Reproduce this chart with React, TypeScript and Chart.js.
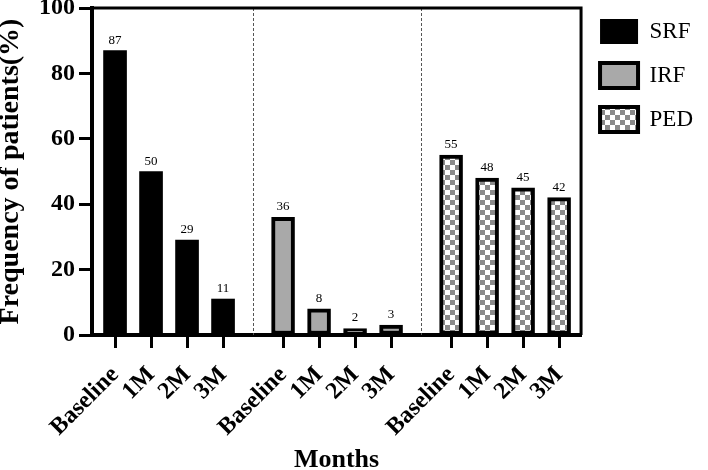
import React, { useEffect, useRef } from 'react';
import { Chart, registerables } from 'chart.js';

Chart.register(...registerables);

const seriesNames = ['SRF', 'IRF', 'PED'];
const timepoints = ['Baseline', '1M', '2M', '3M'];
const srfValues = [87, 50, 29, 11];
const irfValues = [36, 8, 2, 3];
const pedValues = [55, 48, 45, 42];
const yTickValues = [0, 20, 40, 60, 80, 100];
const xTitle = 'Months';
const yTitle = 'Frequency of patients(%)';

// layout constants (group spacing on the linear x axis)
const GROUP_STEP = 4.667;
const X_MIN = -0.64;
const X_MAX = 2 * GROUP_STEP + 3 + 0.61;

const FONT = '"Liberation Serif", "Times New Roman", serif';

const seriesValues = [srfValues, irfValues, pedValues];
const xPositions: number[] = [];
const xLabels: string[] = [];
seriesValues.forEach((vals, g) => {
  vals.forEach((_, i) => {
    xPositions.push(g * GROUP_STEP + i);
    xLabels.push(timepoints[i]);
  });
});

function makeChecker(): CanvasPattern | string {
  const c = document.createElement('canvas');
  c.width = 10;
  c.height = 10;
  const ctx = c.getContext('2d');
  if (!ctx) return '#bbb';
  ctx.fillStyle = '#ffffff';
  ctx.fillRect(0, 0, 10, 10);
  ctx.fillStyle = '#8a8a8a';
  ctx.fillRect(0, 0, 5, 5);
  ctx.fillRect(5, 5, 5, 5);
  const p = ctx.createPattern(c, 'repeat');
  return p || '#bbb';
}

const valueLabelPlugin = {
  id: 'valueLabels',
  afterDatasetsDraw(chart: any) {
    const ctx = chart.ctx;
    ctx.save();
    ctx.font = `13px ${FONT}`;
    ctx.fillStyle = '#000';
    ctx.textAlign = 'center';
    ctx.textBaseline = 'alphabetic';
    chart.data.datasets.forEach((ds: any, di: number) => {
      const meta = chart.getDatasetMeta(di);
      meta.data.forEach((el: any, i: number) => {
        const v = ds.data[i].y;
        ctx.fillText(String(v), el.x, el.y - 7);
      });
    });
    ctx.restore();
  },
};

const framePlugin = {
  id: 'frame',
  beforeDatasetsDraw(chart: any) {
    const { ctx, chartArea } = chart;
    const xs = chart.scales.x;
    ctx.save();
    ctx.strokeStyle = '#555';
    ctx.lineWidth = 1;
    ctx.setLineDash([3, 2]);
    for (let g = 0; g < seriesValues.length - 1; g++) {
      const mid = (g * GROUP_STEP + seriesValues[g].length - 1 + (g + 1) * GROUP_STEP) / 2;
      const px = Math.round(xs.getPixelForValue(mid)) + 0.5;
      ctx.beginPath();
      ctx.moveTo(px, chartArea.top);
      ctx.lineTo(px, chartArea.bottom);
      ctx.stroke();
    }
    ctx.restore();
  },
  afterDraw(chart: any) {
    const { ctx, chartArea } = chart;
    ctx.save();
    ctx.strokeStyle = '#000';
    ctx.lineWidth = 3;
    ctx.beginPath();
    ctx.moveTo(chartArea.left, chartArea.top);
    ctx.lineTo(chartArea.right, chartArea.top);
    ctx.lineTo(chartArea.right, chartArea.bottom);
    ctx.stroke();
    ctx.restore();
  },
};

export default function App() {
  const ref = useRef<HTMLCanvasElement | null>(null);

  useEffect(() => {
    if (!ref.current) return;
    const checker = makeChecker();
    const fills = ['#000000', '#a9a9a9', checker];
    const borders = [0, 4, 4];
    const chart = new Chart(ref.current, {
      type: 'bar',
      data: {
        datasets: seriesNames.map((name, g) => ({
          label: name,
          data: seriesValues[g].map((v, i) => ({ x: g * GROUP_STEP + i, y: v })),
          backgroundColor: fills[g] as any,
          borderColor: '#000000',
          borderWidth: borders[g],
          borderSkipped: false,
          barThickness: 23,
          grouped: false,
        })),
      },
      options: {
        responsive: false,
        animation: false,
        devicePixelRatio: 1,
        layout: { padding: { top: 0, right: 5, bottom: 0, left: 0 } },
        plugins: {
          legend: {
            position: 'right',
            align: 'start',
            labels: {
              color: '#000',
              font: { family: FONT, size: 23 },
              boxWidth: 38,
              boxHeight: 25,
              padding: 19,
            },
          },
          tooltip: { enabled: false },
        },
        scales: {
          x: {
            type: 'linear',
            offset: false,
            min: X_MIN,
            max: X_MAX,
            afterBuildTicks: (scale: any) => {
              scale.ticks = xPositions.map((v) => ({ value: v }));
            },
            afterFit: (scale: any) => {
              scale.height = 135;
            },
            ticks: {
              autoSkip: false,
              minRotation: 45,
              maxRotation: 45,
              color: '#000',
              padding: 13,
              font: { family: FONT, size: 24, weight: 'bold' },
              callback: (_v: any, i: number) => xLabels[i],
            },
            grid: {
              offset: false,
              drawOnChartArea: false,
              drawTicks: true,
              tickLength: 13,
              tickWidth: 3,
              tickColor: '#000',
            },
            border: { display: true, color: '#000', width: 4 },
            title: {
              display: true,
              text: xTitle,
              color: '#000',
              font: { family: FONT, size: 26, weight: 'bold', lineHeight: 1 },
              padding: { top: 0, bottom: -3 },
            },
          },
          y: {
            min: 0,
            max: 100,
            afterBuildTicks: (scale: any) => {
              scale.ticks = yTickValues.map((v) => ({ value: v }));
            },
            afterFit: (scale: any) => {
              scale.width = 92;
              scale.paddingTop = 8;
            },
            ticks: {
              color: '#000',
              padding: 4,
              font: { family: FONT, size: 24, weight: 'bold' },
            },
            grid: {
              drawOnChartArea: false,
              drawTicks: true,
              tickLength: 13,
              tickWidth: 3,
              tickColor: '#000',
            },
            border: { display: true, color: '#000', width: 4 },
            title: {
              display: true,
              text: yTitle,
              color: '#000',
              font: { family: FONT, size: 28, weight: 'bold', lineHeight: 1 },
              padding: { top: -3, bottom: 0 },
            },
          },
        },
      },
      plugins: [valueLabelPlugin, framePlugin],
    } as any);
    return () => chart.destroy();
  }, []);

  return (
    <div style={{ position: 'absolute', left: 0, top: 0, width: 708, height: 470 }}>
      <canvas ref={ref} width={708} height={470} />
    </div>
  );
}
